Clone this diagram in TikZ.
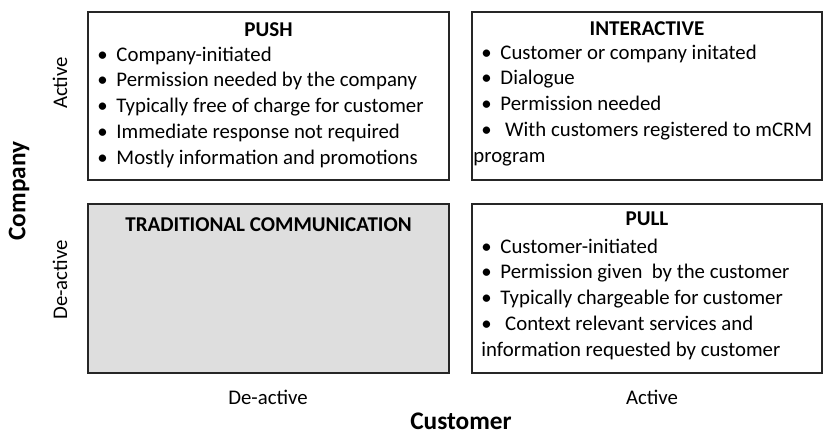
\documentclass[tikz,border=0pt]{standalone}
\usepackage{fontspec}
\setmainfont{Carlito}
\usepackage{tikz}
\usetikzlibrary{calc,fit}
\definecolor{tradgray}{RGB}{222,222,222}
\newcommand{\itm}{\textbullet\hspace{0.42em}}

\begin{document}
\begin{tikzpicture}[x=0.75pt,y=-0.75pt,
  quad/.style={draw=black!85,line width=1.3pt,inner sep=0pt},
  head/.style={font=\fontsize{15.8}{19}\selectfont\bfseries,anchor=base,inner sep=0pt},
  items/.style={font=\fontsize{15.6}{19.3}\selectfont,align=left,anchor=base west,inner sep=0pt},
  axis/.style={font=\fontsize{19}{22}\selectfont\bfseries,inner sep=0pt},
  level/.style={font=\fontsize{15.6}{18}\selectfont,inner sep=0pt}]
\useasboundingbox (0,0) rectangle (824,433);
% the four fields
\node[quad,fit={(88,12) (449,180)}] (push) {};
\node[quad,fit={(472,12) (822,180)}] (inter) {};
\node[quad,fill=tradgray,fit={(88,204) (449,373)}] (trad) {};
\node[quad,fit={(472,204) (822,373)}] (pull) {};
% headings
\node[head] (pushhead) at ($(push.north)+(0,25)$) {PUSH};
\node[head] (interhead) at ($(inter.north)+(0,24)$) {INTERACTIVE};
\node[head] (tradhead) at ($(trad.north)+(0,28)$) {TRADITIONAL COMMUNICATION};
\node[head] (pullhead) at ($(pull.north)+(0,22)$) {PULL};
% lists (anchored on the last line)
\node[items] (pushlist) at ($(push.north west)+(10,153)$) {%
\itm Company-initiated\\
\itm Permission needed by the company\\
\itm Typically free of charge for customer\\
\itm Immediate response not required\\
\itm Mostly information and promotions};
\node[items] (interlist) at ($(inter.north west)+(10,151)$) {%
\itm Customer or company initated\\
\itm Dialogue\\
\itm Permission needed\\
\itm\ With customers registered to mCRM\\
\hspace*{-6pt}program};
\node[items] (pulllist) at ($(pull.north west)+(10,153)$) {%
\itm Customer-initiated\\
\itm Permission given\ \ by the customer\\
\itm Typically chargeable for customer\\
\itm\ Context relevant services and\\
information requested by customer};
% axes
\node[level,rotate=90] (compact) at (60,83) {Active};
\node[level,rotate=90] (compdeact) at (60,280) {De-active};
\node[axis,rotate=90] (company) at (19,191) {Company};
\node[level] (custdeact) at (268,397) {De-active};
\node[level] (custact) at (652,397) {Active};
\node[axis] (customer) at (461,421) {Customer};
\end{tikzpicture}
\end{document}
